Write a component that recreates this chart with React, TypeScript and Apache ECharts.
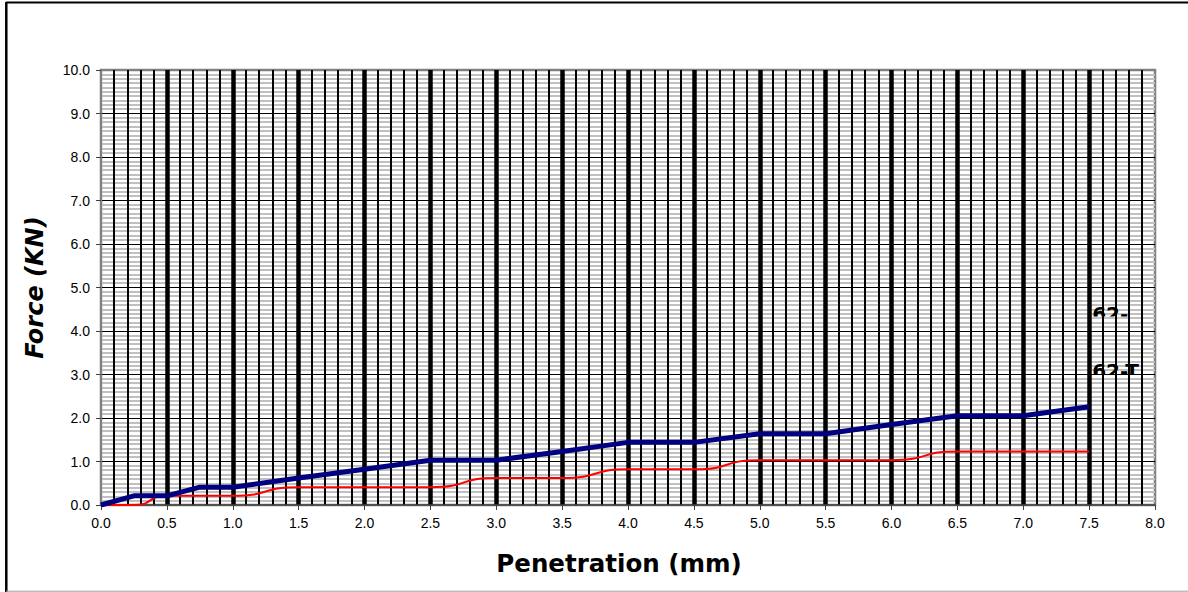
import React, { useEffect, useRef } from "react";
import * as echarts from "echarts";

// Penetration (mm)
const penetration = [0, 0.25, 0.5, 0.75, 1.0, 1.5, 2.0, 2.5, 3.0, 3.5, 4.0, 4.5, 5.0, 5.5, 6.0, 6.5, 7.0, 7.5];
// Force (KN) – thick navy curve
const forceNavy = [0, 0.21, 0.21, 0.41, 0.41, 0.62, 0.82, 1.03, 1.03, 1.23, 1.44, 1.44, 1.64, 1.64, 1.85, 2.05, 2.05, 2.26];
// Force (KN) – thin red curve
const forceRed = [0, 0, 0.21, 0.21, 0.21, 0.41, 0.41, 0.41, 0.62, 0.62, 0.82, 0.82, 1.03, 1.03, 1.03, 1.23, 1.23, 1.23];
// Clipped series labels at the right end
const endLabels = ["62-", "62-T"];

// layout (not data)
const labelAnchorX = 7.5;
const labelAnchorY = [4.39, 3.09];
const labelClipBottom = [2.5, 4.5];

export default function App() {
  const ref = useRef<HTMLDivElement>(null);
  useEffect(() => {
    if (!ref.current) return;
    const chart = echarts.init(ref.current, undefined, { renderer: "svg" });
    const fmt = (v: number) => v.toFixed(1);
    chart.setOption({
      animation: false,
      backgroundColor: "#ffffff",
      grid: {
        left: 101,
        top: 70,
        width: 1054,
        height: 435,
        show: true,
        backgroundColor: "#ffffff",
        borderColor: "#808080",
        borderWidth: 2.5,
      },
      xAxis: {
        type: "value",
        min: 0,
        max: 8,
        interval: 0.5,
        z: 1,
        name: "Penetration (mm)",
        nameLocation: "middle",
        nameGap: 46,
        nameTextStyle: { fontFamily: "DejaVu Sans", fontWeight: "bold", fontSize: 24.5, color: "#000", padding: [0, 18, 0, 0] },
        axisLine: { show: true, onZero: false, lineStyle: { color: "#404040", width: 1.5 } },
        axisTick: { show: true, length: 5, lineStyle: { color: "#404040", width: 1 } },
        axisLabel: { formatter: fmt, fontFamily: "Liberation Sans", fontSize: 14, color: "#000", margin: 11 },
        splitLine: { show: true, showMinLine: false, showMaxLine: false, lineStyle: { color: "#000", width: 4.5 } },
        minorTick: { show: false, splitNumber: 5 },
        minorSplitLine: { show: true, lineStyle: { color: "#000", width: 2 } },
      },
      yAxis: {
        type: "value",
        min: 0,
        max: 10,
        interval: 1,
        name: "Force (KN)",
        nameLocation: "middle",
        nameGap: 48,
        nameTextStyle: { fontFamily: "DejaVu Sans", fontWeight: "bold", fontStyle: "italic", fontSize: 24, color: "#000", padding: [0, 0, 6, 0] },
        axisLine: { show: true, onZero: false, lineStyle: { color: "#808080", width: 1 } },
        axisTick: { show: true, length: 5, lineStyle: { color: "#404040", width: 1 } },
        axisLabel: { formatter: fmt, fontFamily: "Liberation Sans", fontSize: 14, color: "#000", margin: 11 },
        splitLine: { show: true, showMinLine: false, showMaxLine: false, lineStyle: { color: "#000", width: 1 } },
        minorTick: { show: false, splitNumber: 10 },
        minorSplitLine: { show: true, lineStyle: { color: "#c0c0c0", width: 2 } },
      },
      graphic: [
        { type: "line", shape: { x1: 6, y1: 2.5, x2: 1188, y2: 2.5 }, style: { stroke: "#000", lineWidth: 2 } },
        { type: "line", shape: { x1: 6.3, y1: 2, x2: 6.3, y2: 592 }, style: { stroke: "#000", lineWidth: 2.5 } },
        { type: "line", shape: { x1: 6, y1: 591.2, x2: 1188, y2: 591.2 }, style: { stroke: "#a0a0a0", lineWidth: 1 } },
      ],
      series: [
        {
          type: "line",
          data: penetration.map((x, i) => [x, forceRed[i]]),
          smooth: 0.6,
          showSymbol: false,
          lineStyle: { color: "#ff0000", width: 2 },
          z: 3,
        },
        {
          type: "line",
          data: penetration.map((x, i) => [x, forceNavy[i]]),
          showSymbol: false,
          lineStyle: { color: "#000080", width: 5 },
          z: 4,
        },
        {
          type: "custom",
          coordinateSystem: "cartesian2d",
          data: endLabels.map((_, i) => [labelAnchorX, labelAnchorY[i]]),
          z: 5,
          renderItem: (params: any, api: any) => {
            const p = api.coord([api.value(0), api.value(1)]);
            const i = params.dataIndex;
            return {
              type: "text",
              x: p[0] + 3,
              y: p[1],
              style: {
                text: endLabels[i],
                font: 'bold 20px "DejaVu Sans"',
                fill: "#000",
                align: "left",
                verticalAlign: "middle",
              },
              clipPath: { type: "rect", shape: { x: -5, y: -20, width: 90, height: 20 + labelClipBottom[i] } },
            };
          },
        },
      ],
    });
    return () => chart.dispose();
  }, []);
  return (
    <div
      ref={ref}
      style={{ position: "absolute", left: 0, top: 0, width: 1188, height: 592 }}
    />
  );
}
